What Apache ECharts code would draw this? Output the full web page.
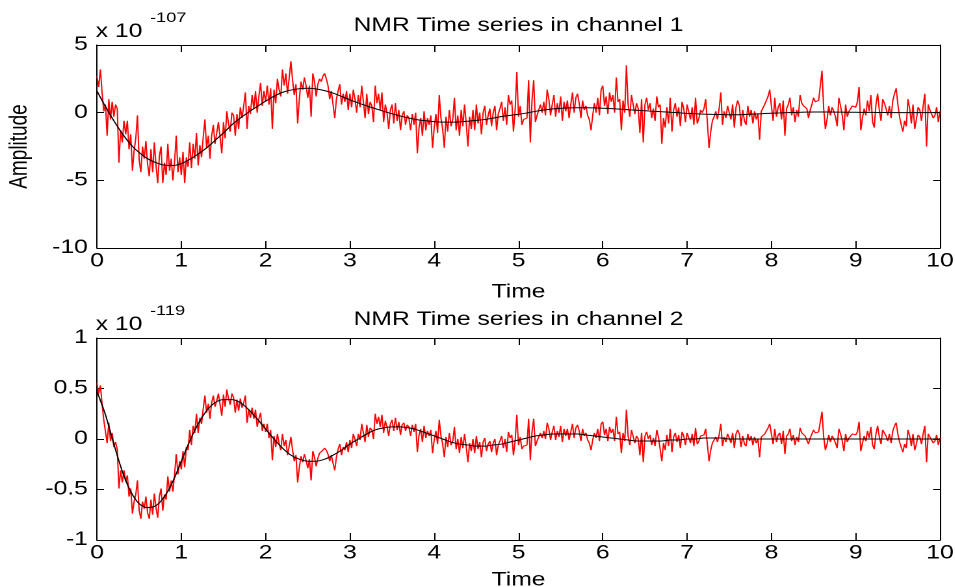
<!DOCTYPE html>
<html>
<head>
<meta charset="utf-8">
<script src="https://cdn.jsdelivr.net/npm/echarts/dist/echarts.min.js"></script>
<style>
  html, body { margin: 0; padding: 0; background: #fff; overflow: hidden; }
  #chart { height: 587px; transform-origin: 0 0; }
</style>
</head>
<body>
<div id="chart"></div>
<script>
// Sampling of the two records (time units)
const sampleStep = 0.02;   // raw signal samples
const fitStep = 0.1;       // fitted curve samples

// Channel 1: raw noisy signal (x 1e-107)
const ch1Raw = [
  2.7,1.9,3.2,1.5,0.1,0.6,-1.7,1.0,-0.5,0.8,
  -0.3,0.6,0.3,-3.7,-1.3,-2.2,-0.6,-1.6,-0.6,-2.7,
  -1.6,-4.3,-2.8,-1.9,-0.2,-3.5,-4.4,-2.5,-3.4,-2.1,
  -3.8,-4.7,-2.7,-4.4,-2.2,-3.9,-5.2,-3.2,-2.5,-5.2,
  -3.7,-4.6,-2.3,-4.3,-3.4,-5.0,-3.6,-1.7,-4.4,-3.3,
  -4.6,-2.9,-5.2,-3.3,-4.0,-2.2,-4.1,-2.3,-3.4,-1.5,
  -3.9,-2.4,-3.3,-1.8,-0.5,-2.6,-1.7,-3.4,-1.7,-0.9,
  -2.3,-1.5,-0.7,-1.8,-3.0,-0.7,-1.9,0.1,-0.8,-1.4,
  0.0,-0.2,-1.7,-0.1,-1.2,0.4,-0.4,0.5,1.5,-1.2,
  0.5,-0.1,1.3,0.3,1.6,0.0,1.2,2.2,0.5,1.6,
  0.8,2.0,0.6,1.8,-1.2,1.7,0.7,2.5,1.7,1.2,
  3.2,2.0,2.9,1.4,2.6,3.8,2.4,1.3,2.1,-0.8,
  1.0,2.3,1.7,2.6,2.0,1.1,2.0,-0.3,2.9,2.3,
  1.2,2.1,2.5,2.3,2.7,2.9,2.5,2.0,1.0,1.6,
  0.6,-0.4,1.0,1.6,2.1,0.6,1.4,0.8,1.6,0.2,
  1.4,0.4,1.7,1.0,0.0,1.3,0.4,2.0,0.8,-0.4,
  1.4,-0.1,0.8,0.5,-0.7,2.0,0.7,1.4,0.2,1.5,
  -0.7,0.6,0.0,-1.2,0.2,0.6,-0.8,0.7,-0.6,0.2,
  -1.3,-0.2,0.1,-0.9,-0.2,-0.4,-1.3,-0.1,-0.9,0.0,
  -3.0,-1.1,-0.4,-1.7,0.1,-1.3,-0.4,-0.9,-0.2,-2.6,
  -1.1,-0.1,-1.5,1.3,-0.4,-1.2,-2.6,-0.3,-1.4,0.2,
  -1.0,-0.5,1.1,-1.3,-0.2,-1.7,0.2,-1.0,0.6,-0.8,
  -2.5,-0.3,-1.2,0.2,-1.3,0.6,-0.8,0.0,-1.6,0.0,
  0.5,-0.9,-0.2,0.3,-1.0,0.0,0.5,-1.3,-0.1,0.3,
  0.8,-0.6,0.4,-0.9,1.3,0.6,0.9,-1.4,0.2,3.0,
  -0.3,0.5,-0.9,-0.5,-0.6,-0.4,2.4,-2.2,0.9,2.4,
  -0.7,-0.2,0.2,0.6,0.0,0.8,-0.2,1.7,1.0,-0.2,
  0.6,1.3,-0.3,0.7,0.0,1.2,-0.6,0.8,0.1,0.9,
  -0.4,0.6,1.5,0.0,1.1,1.4,0.7,-0.4,0.9,0.2,
  0.5,-0.2,-0.5,-1.3,-0.2,0.7,0.0,1.1,-0.2,1.7,
  2.0,0.5,1.2,-0.1,1.5,0.8,1.3,0.0,2.6,0.8,
  1.0,-1.3,0.9,0.0,3.5,0.6,-0.3,1.3,1.2,-0.1,
  0.7,0.3,-1.5,1.0,-2.2,0.6,1.1,0.2,0.7,-0.4,
  0.3,-0.6,1.2,0.4,0.6,-2.3,-0.4,-1.1,0.4,-0.8,
  1.1,-1.4,0.2,0.7,-0.3,0.4,-1.0,0.8,0.3,-0.7,
  0.6,0.5,-0.5,0.4,-0.9,1.1,-0.8,-0.4,0.2,0.0,
  0.3,1.0,-0.7,-2.6,-1.4,-0.6,-0.3,0.1,-0.5,0.3,
  1.5,-0.9,0.1,-0.4,0.5,0.0,-0.5,0.6,-1.1,0.4,
  0.9,0.5,-1.0,0.2,-0.6,-0.9,0.5,-0.3,0.2,-0.8,
  0.1,-0.5,-0.1,-2.0,0.1,0.1,0.6,0.9,1.2,1.7,
  0.5,-0.6,1.1,-0.3,0.4,0.7,-0.5,0.9,-1.7,0.3,
  0.6,1.1,-0.2,0.4,-0.7,0.2,-0.3,1.3,0.7,0.5,
  0.4,0.3,-0.4,0.2,0.6,1.1,0.8,0.7,0.9,1.0,
  3.1,0.3,-1.2,-0.5,0.5,-0.2,0.4,0.1,-0.3,-1.0,
  1.1,0.5,-0.2,-1.3,0.6,-0.3,0.1,0.2,0.5,0.6,
  0.4,0.8,1.9,-1.3,-0.4,0.3,-0.2,0.9,0.1,1.3,
  -0.7,-1.1,0.6,1.4,0.2,-0.6,1.0,0.7,0.3,-0.2,
  0.5,-0.4,0.9,1.4,1.8,0.6,-0.3,-0.9,-1.4,-0.6,
  -1.0,1.0,0.3,-0.8,0.6,-1.2,-0.5,0.4,0.2,-0.6,
  0.5,1.4,-2.5,0.6,0.2,0.3,-0.4,-0.2,0.4,-0.7,
  0.1
];

// Channel 1: fitted damped oscillation (x 1e-107)
const ch1Fit = [
  1.6,0.45,-0.6,-1.55,-2.35,-2.95,-3.4,-3.7,-3.88,-3.9,
  -3.77,-3.45,-3.05,-2.6,-2.05,-1.5,-0.9,-0.4,0.05,0.45,
  0.85,1.22,1.5,1.67,1.77,1.8,1.75,1.63,1.45,1.2,
  0.95,0.72,0.5,0.3,0.1,-0.08,-0.25,-0.4,-0.52,-0.6,
  -0.66,-0.7,-0.7,-0.68,-0.63,-0.57,-0.5,-0.4,-0.28,-0.2,
  -0.12,-0.02,0.1,0.2,0.27,0.32,0.35,0.36,0.36,0.35,
  0.33,0.3,0.26,0.22,0.18,0.14,0.1,0.07,0.03,-0.01,
  -0.05,-0.08,-0.11,-0.13,-0.14,-0.15,-0.15,-0.13,-0.1,-0.07,
  -0.04,-0.02,0.0,0.02,0.04,0.05,0.05,0.05,0.04,0.03,
  0.03,0.02,0.02,0.01,0.01,0.0,0.0,0.0,0.0,0.0,
  0.0
];

// Channel 2: raw noisy signal (x 1e-119)
const ch2Raw = [
  0.55,0.45,0.53,0.35,0.19,0.20,-0.04,0.16,-0.02,0.06,
  -0.08,-0.03,-0.10,-0.49,-0.31,-0.43,-0.31,-0.42,-0.36,-0.57,
  -0.49,-0.74,-0.62,-0.55,-0.41,-0.71,-0.79,-0.62,-0.69,-0.57,
  -0.73,-0.79,-0.60,-0.75,-0.54,-0.68,-0.78,-0.57,-0.49,-0.71,
  -0.55,-0.60,-0.37,-0.52,-0.41,-0.52,-0.35,-0.15,-0.35,-0.22,
  -0.30,-0.12,-0.28,-0.08,-0.11,0.09,-0.06,0.13,0.06,0.25,
  0.06,0.21,0.15,0.30,0.43,0.26,0.35,0.20,0.36,0.43,
  0.32,0.38,0.45,0.34,0.23,0.44,0.32,0.49,0.40,0.34,
  0.45,0.41,0.26,0.39,0.28,0.40,0.31,0.36,0.43,0.16,
  0.29,0.21,0.31,0.20,0.29,0.12,0.20,0.26,0.08,0.15,
  0.07,0.15,0.01,0.09,-0.21,0.03,-0.08,0.05,-0.04,-0.11,
  0.05,-0.07,-0.01,-0.16,-0.07,0.02,-0.11,-0.22,-0.16,-0.43,
  -0.28,-0.17,-0.23,-0.15,-0.21,-0.29,-0.20,-0.41,-0.12,-0.18,
  -0.27,-0.19,-0.14,-0.15,-0.11,-0.09,-0.11,-0.15,-0.22,-0.16,
  -0.24,-0.31,-0.18,-0.10,-0.05,-0.16,-0.08,-0.11,-0.03,-0.13,
  -0.01,-0.09,0.05,0.00,-0.07,0.05,-0.01,0.15,0.06,-0.03,
  0.14,0.02,0.11,0.09,0.00,0.25,0.15,0.22,0.12,0.24,
  0.06,0.18,0.12,0.03,0.15,0.19,0.08,0.21,0.09,0.17,
  0.04,0.14,0.16,0.08,0.14,0.12,0.03,0.14,0.07,0.15,
  -0.13,0.04,0.10,-0.03,0.13,0.01,0.08,0.03,0.09,-0.14,
  -0.01,0.08,-0.05,0.19,0.03,-0.05,-0.18,0.02,-0.08,0.06,
  -0.06,-0.02,0.12,-0.10,0.00,-0.14,0.02,-0.09,0.05,-0.08,
  -0.23,-0.04,-0.12,0.00,-0.14,0.03,-0.10,-0.03,-0.18,-0.03,
  0.01,-0.12,-0.05,-0.02,-0.13,-0.04,0.00,-0.16,-0.06,-0.02,
  0.03,-0.09,0.00,-0.13,0.07,0.01,0.04,-0.16,-0.02,0.24,
  -0.06,0.02,-0.10,-0.07,-0.08,-0.06,0.20,-0.21,0.07,0.20,
  -0.07,-0.02,0.02,0.06,0.01,0.08,0.00,0.16,0.10,-0.01,
  0.07,0.13,-0.01,0.08,0.02,0.13,-0.03,0.10,0.03,0.10,
  -0.01,0.07,0.15,0.01,0.11,0.14,0.08,-0.02,0.10,0.03,
  0.06,-0.01,-0.04,-0.11,-0.01,0.06,0.01,0.10,-0.02,0.15,
  0.17,0.04,0.10,-0.02,0.12,0.06,0.10,-0.02,0.22,0.05,
  0.07,-0.14,0.06,-0.02,0.29,0.03,-0.06,0.09,0.08,-0.04,
  0.03,0.00,-0.16,0.06,-0.23,0.03,0.07,0.00,0.04,-0.06,
  0.01,-0.07,0.09,0.02,0.03,-0.22,-0.04,-0.11,0.04,-0.07,
  0.10,-0.13,0.02,0.06,-0.03,0.04,-0.09,0.07,0.03,-0.06,
  0.06,0.05,-0.04,0.05,-0.07,0.11,-0.05,-0.02,0.03,0.02,
  0.04,0.10,-0.05,-0.22,-0.11,-0.04,-0.01,0.02,-0.03,0.04,
  0.15,-0.07,0.02,-0.03,0.05,0.01,-0.04,0.06,-0.09,0.05,
  0.09,0.05,-0.08,0.03,-0.05,-0.07,0.05,-0.02,0.03,-0.06,
  0.02,-0.04,0.00,-0.18,0.02,0.01,0.05,0.08,0.11,0.15,
  0.05,-0.05,0.10,-0.03,0.04,0.06,-0.05,0.08,-0.15,0.03,
  0.05,0.10,-0.02,0.04,-0.06,0.02,-0.03,0.11,0.06,0.05,
  0.03,0.02,-0.05,0.01,0.05,0.09,0.06,0.05,0.07,0.08,
  0.27,0.02,-0.11,-0.05,0.04,-0.03,0.03,0.00,-0.04,-0.09,
  0.10,0.05,-0.02,-0.12,0.05,-0.03,0.01,0.02,0.05,0.05,
  0.04,0.07,0.17,-0.12,-0.04,0.03,-0.02,0.08,0.01,0.12,
  -0.06,-0.10,0.05,0.13,0.02,-0.05,0.09,0.06,0.03,-0.02,
  0.05,-0.04,0.08,0.13,0.16,0.05,-0.03,-0.08,-0.13,-0.05,
  -0.09,0.09,0.03,-0.07,0.05,-0.11,-0.05,0.04,0.02,-0.05,
  0.05,0.13,-0.23,0.05,0.02,0.03,-0.04,-0.02,0.04,-0.06,
  0.01
];

// Channel 2: fitted damped oscillation (x 1e-119)
const ch2Fit = [
  0.47,0.24,-0.05,-0.32,-0.52,-0.64,-0.68,-0.66,-0.57,-0.42,
  -0.22,-0.02,0.15,0.28,0.36,0.39,0.39,0.36,0.29,0.2,
  0.1,0.0,-0.09,-0.16,-0.2,-0.22,-0.22,-0.2,-0.16,-0.11,
  -0.05,0.0,0.05,0.09,0.11,0.12,0.12,0.11,0.09,0.06,
  0.03,0.0,-0.03,-0.05,-0.06,-0.07,-0.07,-0.06,-0.05,-0.03,
  -0.01,0.01,0.03,0.04,0.05,0.05,0.05,0.05,0.04,0.03,
  0.02,0.01,0.0,-0.01,-0.02,-0.02,-0.02,-0.02,-0.01,-0.01,
  0.0,0.0,0.01,0.01,0.01,0.0,0.0,0.0,0.0,0.0,
  0.0,0.0,0.0,0.0,0.0,0.0,0.0,0.0,0.0,0.0,
  0.0,0.0,0.0,0.0,0.0,0.0,0.0,0.0,0.0,0.0,
  0.0
];

// Axis settings per panel
const panelTitles = ['NMR Time series in channel 1', 'NMR Time series in channel 2'];
const panelExponents = ['-107', '-119'];
const yRanges = [{ min: -10, max: 5, interval: 5 }, { min: -1, max: 1, interval: 0.5 }];
const xRange = { min: 0, max: 10, interval: 1 };
const xName = 'Time';
const yName = 'Amplitude';

// The figure is drawn narrower and widened horizontally, giving the
// wide lettering of the exported figure.
const STRETCH = 1.3;
const FULL_W = 955;
const innerW = FULL_W / STRETCH;
const chartEl = document.getElementById('chart');
chartEl.style.width = innerW + 'px';
chartEl.style.transform = 'scaleX(' + STRETCH + ')';

const FONT = '"Liberation Sans", Arial, Helvetica, sans-serif';
const FS = 19;
const grids = [
  { left: 97 / STRETCH, top: 45, width: 843 / STRETCH, height: 203 },
  { left: 97 / STRETCH, top: 338, width: 843 / STRETCH, height: 202 }
];

function toPairs(values, step) {
  return values.map((v, i) => [Math.round(i * step * 1000) / 1000, v]);
}

const lineAxis = { show: true, onZero: false, lineStyle: { color: '#000', width: 1 } };
const xTick = { show: true, inside: true, length: 7, lineStyle: { color: '#000', width: 1 } };
const yTick = { show: true, inside: true, length: 7 / STRETCH, lineStyle: { color: '#000', width: 1 } };
const labelStyle = { color: '#000', fontSize: FS, fontFamily: FONT };

const xAxes = [];
const yAxes = [];
grids.forEach((g, k) => {
  xAxes.push({
    gridIndex: k, type: 'value', position: 'bottom', ...xRange,
    axisLine: lineAxis, axisTick: xTick, splitLine: { show: false },
    axisLabel: { ...labelStyle, margin: 4 },
    name: xName, nameLocation: 'middle', nameGap: k === 0 ? 35 : 31,
    nameTextStyle: { color: '#000', fontSize: FS, fontFamily: FONT }
  });
  xAxes.push({
    gridIndex: k, type: 'value', position: 'top', ...xRange,
    axisLine: lineAxis, axisTick: xTick, splitLine: { show: false },
    axisLabel: { show: false }
  });
  yAxes.push({
    gridIndex: k, type: 'value', position: 'left', ...yRanges[k],
    axisLine: lineAxis, axisTick: yTick, splitLine: { show: false },
    axisLabel: { ...labelStyle, margin: 7 },
    name: k === 0 ? yName : '', nameLocation: 'middle', nameGap: 50,
    nameTextStyle: { color: '#000', fontSize: FS, fontFamily: FONT }
  });
  yAxes.push({
    gridIndex: k, type: 'value', position: 'right', ...yRanges[k],
    axisLine: lineAxis, axisTick: yTick, splitLine: { show: false },
    axisLabel: { show: false }
  });
});

const raws = [ch1Raw, ch2Raw];
const fits = [ch1Fit, ch2Fit];
const series = [];
grids.forEach((g, k) => {
  series.push({
    type: 'line', xAxisIndex: 2 * k, yAxisIndex: 2 * k,
    data: toPairs(raws[k], sampleStep), showSymbol: false, silent: true,
    lineStyle: { color: '#ff0000', width: 1 }, z: 2
  });
  series.push({
    type: 'line', xAxisIndex: 2 * k, yAxisIndex: 2 * k,
    data: toPairs(fits[k], fitStep), showSymbol: false, silent: true, smooth: 0.3,
    lineStyle: { color: '#000', width: 1 }, z: 3
  });
});

// Panel titles and axis multipliers
const graphics = [];
grids.forEach((g, k) => {
  graphics.push({
    type: 'text', x: g.left + g.width / 2, y: g.top - (k === 0 ? 19 : 18),
    style: { text: panelTitles[k], fill: '#000', font: FS + 'px ' + FONT, align: 'center', verticalAlign: 'middle' }
  });
  graphics.push({
    type: 'text', x: g.left - 1, y: g.top - 13,
    style: { text: 'x 10', fill: '#000', font: FS + 'px ' + FONT, align: 'left', verticalAlign: 'middle' }
  });
  graphics.push({
    type: 'text', x: 150 / STRETCH, y: g.top - 27,
    style: { text: panelExponents[k], fill: '#000', font: '14px ' + FONT, align: 'left', verticalAlign: 'middle' }
  });
});

const chart = echarts.init(chartEl, null, { renderer: 'canvas', devicePixelRatio: 2 });
chart.setOption({
  animation: false,
  backgroundColor: '#fff',
  grid: grids.map(g => ({ ...g, containLabel: false, outerBoundsMode: 'none' })),
  xAxis: xAxes,
  yAxis: yAxes,
  series: series,
  graphic: graphics
});
</script>
</body>
</html>
